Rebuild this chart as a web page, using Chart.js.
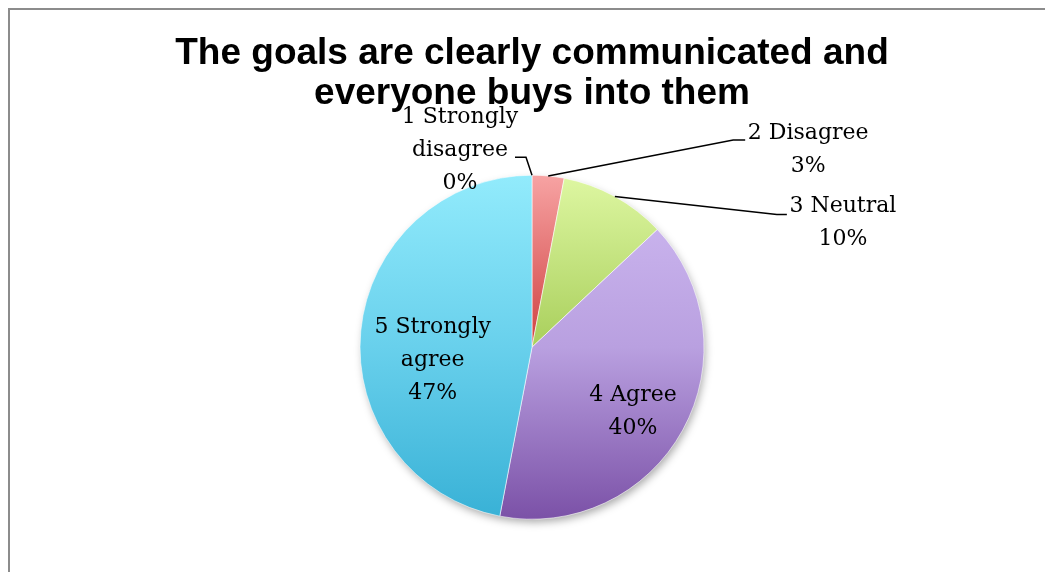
<!DOCTYPE html>
<html>
<head>
<meta charset="utf-8">
<title>Goals survey</title>
<script src="https://cdn.jsdelivr.net/npm/chart.js@4.4.1/dist/chart.umd.min.js"></script>
<style>
  html, body { margin: 0; padding: 0; background: #fff; overflow: hidden; }
  #wrap { position: relative; width: 1045px; height: 572px; }
  #frame {
    position: absolute; left: 8px; top: 8px; right: 0; bottom: 0;
    border-top: 2px solid #8c8c8c; border-left: 2px solid #8c8c8c;
    pointer-events: none;
  }
</style>
</head>
<body>
<div id="wrap">
  <canvas id="pie"></canvas>
  <div id="frame"></div>
</div>
<script>
// survey answers, in slice order (clockwise from 12 o'clock)
const categories = ["1 Strongly disagree", "2 Disagree", "3 Neutral", "4 Agree", "5 Strongly agree"];
const nameLines = [["1 Strongly", "disagree"], ["2 Disagree"], ["3 Neutral"], ["4 Agree"], ["5 Strongly", "agree"]];
const shares = [0, 3, 10, 40, 47];

const pieRadius = 172;
const labelFont = "22px 'DejaVu Serif', serif";
const labelLineGap = 33;

// top -> bottom gradient stops for each slice
const sliceColors = [
  ["#9fc3ea", "#4f81bd"],
  ["#f7a3a3", "#cf4141", "#b02a2a"],
  ["#def7a2", "#a9cf5c", "#8db83f"],
  ["#cfbaf2", "#b9a0e0", "#7b51a7"],
  ["#92ebfc", "#68d0ec", "#38b1d6"],
];

// leader lines for the small slices go: rim -> elbow -> end, text sits beside the end
// inside labels sit on the slice's middle angle at a fraction of the radius
const labelPlacement = [
  { outside: true, elbow: [-6, -18], run: -11, text: [-55, -7] },
  { outside: true, elbow: [185, -36], run: 12, text: [63, 10] },
  { outside: true, elbow: [162, 18], run: 10, text: [56, 8] },
  { outside: false, r: 0.67, dy: 9 },
  { outside: false, r: 0.58, dy: 22 },
];

function sliceFill(ctx) {
  const chart = ctx.chart;
  const area = chart.chartArea;
  const stops = sliceColors[ctx.dataIndex];
  if (!area) return stops[stops.length - 1];
  const cy = (area.top + area.bottom) / 2;
  const g = chart.ctx.createLinearGradient(0, cy - pieRadius, 0, cy + pieRadius);
  stops.forEach((c, k) => g.addColorStop(k / (stops.length - 1), c));
  return g;
}

const pieShadow = {
  id: "pieShadow",
  beforeDatasetsDraw(chart) {
    const arc = chart.getDatasetMeta(0).data[0];
    if (!arc) return;
    const { x, y, outerRadius } = arc.getProps(["x", "y", "outerRadius"], true);
    const c = chart.ctx;
    c.save();
    c.shadowColor = "rgba(0,0,0,0.35)";
    c.shadowBlur = 9;
    c.shadowOffsetX = 2;
    c.shadowOffsetY = 4;
    c.fillStyle = "#fff";
    c.beginPath();
    c.arc(x, y, outerRadius - 1, 0, Math.PI * 2);
    c.fill();
    c.restore();
  }
};

const sliceLabels = {
  id: "sliceLabels",
  afterDatasetsDraw(chart) {
    const c = chart.ctx;
    const meta = chart.getDatasetMeta(0);
    c.save();
    c.font = labelFont;
    c.fillStyle = "#000";
    c.strokeStyle = "#000";
    c.lineWidth = 1.5;
    c.textAlign = "center";
    c.textBaseline = "middle";
    meta.data.forEach((arc, i) => {
      const { x, y, startAngle, endAngle, outerRadius } =
        arc.getProps(["x", "y", "startAngle", "endAngle", "outerRadius"], true);
      const mid = (startAngle + endAngle) / 2;
      const p = labelPlacement[i];
      const lines = nameLines[i].concat([shares[i] + "%"]);
      let cx, cy;
      if (p.outside) {
        const rx = x + Math.cos(mid) * outerRadius;
        const ry = y + Math.sin(mid) * outerRadius;
        const ex = rx + p.elbow[0], ey = ry + p.elbow[1];
        const fx = ex + p.run;
        c.beginPath();
        c.moveTo(rx, ry);
        c.lineTo(ex, ey);
        c.lineTo(fx, ey);
        c.stroke();
        cx = fx + p.text[0];
        cy = ey + p.text[1];
      } else {
        const rr = outerRadius * p.r;
        cx = x + Math.cos(mid) * rr;
        cy = y + Math.sin(mid) * rr + p.dy;
      }
      const top = cy - (lines.length - 1) * labelLineGap / 2;
      lines.forEach((t, k) => c.fillText(t, cx, top + k * labelLineGap));
    });
    c.restore();
  }
};

new Chart(document.getElementById("pie"), {
  type: "pie",
  data: {
    labels: categories,
    datasets: [{
      data: shares,
      backgroundColor: sliceFill,
      borderColor: "rgba(255,255,255,0.55)",
      borderWidth: shares.map(v => (v > 0 ? 1 : 0)),
      radius: pieRadius,
    }]
  },
  options: {
    responsive: true,
    maintainAspectRatio: false,
    animation: false,
    layout: { padding: { left: 19, right: 0, top: 0, bottom: 53 } },
    plugins: {
      legend: { display: false },
      tooltip: { enabled: false },
      title: {
        display: true,
        text: ["The goals are clearly communicated and", "everyone buys into them"],
        color: "#000",
        font: { family: "'Liberation Sans', Arial, sans-serif", size: 37, weight: "bold", lineHeight: 1.1 },
        padding: { top: 33, bottom: 61 },
      },
    },
  },
  plugins: [pieShadow, sliceLabels],
});
</script>
</body>
</html>
